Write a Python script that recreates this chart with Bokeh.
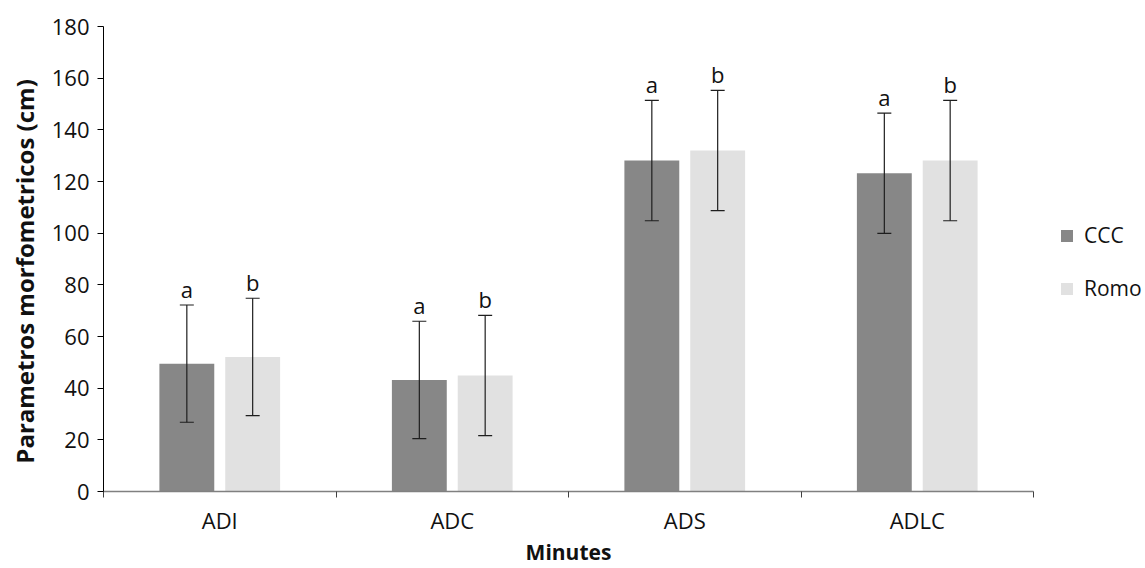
from bokeh.plotting import figure
from bokeh.layouts import row
from bokeh.models import (ColumnDataSource, Range1d, FixedTicker, Whisker, TeeHead,
                          Legend, LegendItem)
from bokeh.core.properties import value
from bokeh.embed import file_html
from bokeh.resources import INLINE

categories = ["ADI", "ADC", "ADS", "ADLC"]
series = ["CCC", "Romo"]
ccc = [49.5, 43.2, 128.1, 123.2]
romo = [52.1, 44.9, 132.0, 128.1]
ccc_err = [22.7, 22.7, 23.3, 23.3]
romo_err = [22.7, 23.3, 23.3, 23.3]
ccc_letters = ["a", "a", "a", "a"]
romo_letters = ["b", "b", "b", "b"]
y_ticks = [0, 20, 40, 60, 80, 100, 120, 140, 160, 180]

FONT = "Open Sans"
DARK = "#878787"
LIGHT = "#e1e1e1"
ERR = "#1e1e1e"

offset = 0.1416
bar_w = 0.236
centers = [i + 0.5 for i in range(len(categories))]

src_c = ColumnDataSource(dict(
    x=[c - offset for c in centers], top=ccc,
    upper=[v + e for v, e in zip(ccc, ccc_err)],
    lower=[v - e for v, e in zip(ccc, ccc_err)],
    lab=ccc_letters))
src_r = ColumnDataSource(dict(
    x=[c + offset for c in centers], top=romo,
    upper=[v + e for v, e in zip(romo, romo_err)],
    lower=[v - e for v, e in zip(romo, romo_err)],
    lab=romo_letters))

p = figure(width=1036, height=568, output_backend="svg", toolbar_location=None,
           x_range=Range1d(0, len(categories)), y_range=Range1d(0, 180),
           min_border_left=103, min_border_right=3, min_border_top=26,
           min_border_bottom=77)
p.outline_line_color = None
p.xgrid.grid_line_color = None
p.ygrid.grid_line_color = None

p.vbar(x="x", top="top", width=bar_w, bottom=0, source=src_c,
       fill_color=DARK, line_color=None)
p.vbar(x="x", top="top", width=bar_w, bottom=0, source=src_r,
       fill_color=LIGHT, line_color=None)

for src in (src_c, src_r):
    w = Whisker(base="x", upper="upper", lower="lower", source=src,
                line_color=ERR, line_width=1.2, level="overlay",
                upper_head=TeeHead(size=14, line_color=ERR, line_width=1.2),
                lower_head=TeeHead(size=14, line_color=ERR, line_width=1.2))
    p.add_layout(w)
    p.text(x="x", y="upper", text="lab", source=src, text_align="center",
           text_baseline="bottom", y_offset=-1, text_font=value(FONT),
           text_font_size="22px", text_color="#111111")

# y axis
ya = p.yaxis[0]
ya.ticker = FixedTicker(ticks=y_ticks)
ya.major_tick_out = 6
ya.major_tick_in = 0
ya.minor_tick_out = 0
ya.minor_tick_in = 0
ya.axis_line_color = "#000000"
ya.major_tick_line_color = "#000000"
ya.major_label_text_font = FONT
ya.major_label_text_font_size = "22px"
ya.major_label_text_color = "#111111"
ya.major_label_standoff = 8
ya.axis_label = "Parametros morfometricos (cm)\u00a0\u00a0\u00a0\u00a0"
ya.axis_label_text_font = FONT
ya.axis_label_text_font_style = "bold"
ya.axis_label_text_font_size = "24px"
ya.axis_label_text_color = "#111111"
ya.axis_label_standoff = 8

# x axis
xa = p.xaxis[0]
xa.ticker = FixedTicker(ticks=centers, minor_ticks=list(range(len(categories) + 1)))
xa.major_label_overrides = {c: n for c, n in zip(centers, categories)}
xa.major_tick_out = 0
xa.major_tick_in = 0
xa.minor_tick_out = 6
xa.minor_tick_in = 0
xa.minor_tick_line_color = "#404040"
xa.axis_line_color = "#808080"
xa.axis_line_width = 1.5
xa.major_label_text_font = FONT
xa.major_label_text_font_size = "22px"
xa.major_label_text_color = "#111111"
xa.major_label_standoff = 7
xa.axis_label = "Minutes"
xa.axis_label_text_font = FONT
xa.axis_label_text_font_style = "bold"
xa.axis_label_text_font_size = "21px"
xa.axis_label_text_color = "#111111"
xa.axis_label_standoff = 0

# legend panel (swatch renderers have zero height, so they draw nothing)
pl = figure(width=109, height=568, output_backend="svg", toolbar_location=None,
            x_range=Range1d(0, 1), y_range=Range1d(0, 1),
            x_axis_location=None, y_axis_location=None,
            min_border=0)
pl.outline_line_color = None
pl.xgrid.grid_line_color = None
pl.ygrid.grid_line_color = None
lr1 = pl.vbar(x=[0.5], top=[0], bottom=[0], width=0, fill_color=DARK, line_color=None)
lr2 = pl.vbar(x=[0.5], top=[0], bottom=[0], width=0, fill_color=LIGHT, line_color=None)
legend = Legend(items=[LegendItem(label=series[0], renderers=[lr1]),
                       LegendItem(label=series[1], renderers=[lr2])],
                location=(23, 189), orientation="vertical",
                border_line_color=None, background_fill_alpha=0,
                glyph_width=15, glyph_height=15, label_standoff=10,
                label_height=25,
                label_text_font=FONT, label_text_font_size="21px",
                label_text_color="#111111", spacing=25, padding=0, margin=0)
pl.add_layout(legend, "center")

layout = row(p, pl, spacing=0)
open("out.html", "w").write(file_html(layout, INLINE))
